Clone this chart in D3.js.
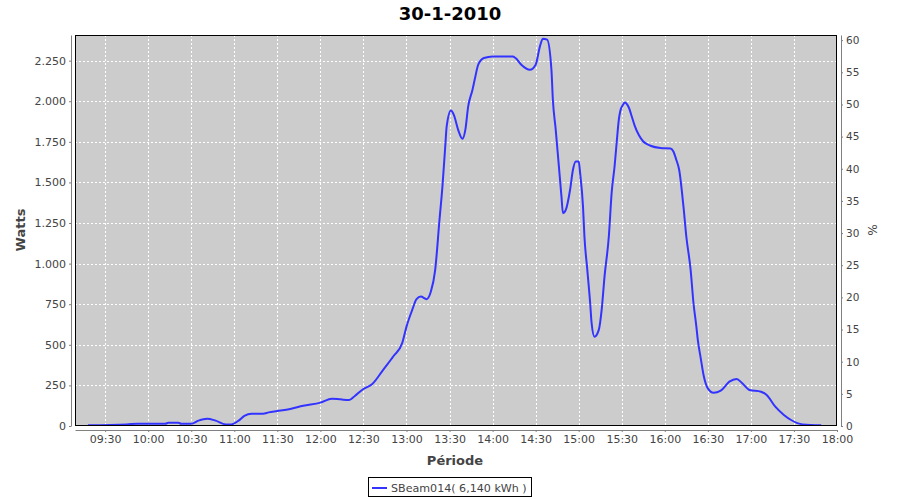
<!DOCTYPE html>
<html>
<head>
<meta charset="utf-8">
<script src="https://cdn.jsdelivr.net/npm/d3@7"></script>
<style>
  html, body { margin: 0; padding: 0; background: #fff; }
  svg { display: block; }
  text { font-family: "DejaVu Sans", sans-serif; }
</style>
</head>
<body>
<svg id="chart" width="900" height="500"></svg>
<script>
// ---- data ----
const chartTitle = "30-1-2010";
const seriesName = "SBeam014( 6,140 kWh )";
const times = ["09:18","09:45","09:53","10:12","10:14","10:21","10:23","10:30","10:35","10:41","10:47","10:54","10:58","11:03","11:07","11:12","11:20","11:24","11:30","11:39","11:48","12:00","12:08","12:14","12:20","12:24","12:30","12:36","12:44","12:51","12:57","13:00","13:04","13:07","13:10","13:14","13:17","13:20","13:23","13:25","13:27","13:28","13:31","13:33","13:36","13:39","13:41","13:43","13:46","13:48","13:50","13:54","14:00","14:14","14:16","14:20","14:26","14:30","14:33","14:35","14:38","14:41","14:42","14:44","14:46","14:48","14:49","14:51","14:54","14:56","14:58","15:00","15:01","15:03","15:04","15:06","15:08","15:09","15:11","15:14","15:16","15:18","15:21","15:23","15:25","15:27","15:28","15:29","15:31","15:32","15:35","15:37","15:39","15:42","15:45","15:50","15:57","16:04","16:06","16:08","16:10","16:13","16:15","16:18","16:20","16:22","16:23","16:25","16:27","16:30","16:34","16:39","16:45","16:50","16:54","16:59","17:07","17:11","17:17","17:23","17:28","17:36","17:49"];
const watts = [4,10,14,14,20,20,14,14,33,45,33,10,10,33,62,76,76,84,92,105,125,144,168,164,160,185,228,257,349,431,510,612,715,781,797,781,828,962,1270,1470,1721,1845,1943,1916,1824,1769,1824,1968,2071,2153,2225,2266,2276,2276,2266,2225,2194,2225,2338,2385,2379,2194,2009,1824,1619,1413,1311,1331,1455,1578,1629,1629,1557,1352,1167,962,756,633,550,592,715,920,1167,1440,1598,1800,1890,1940,1980,1993,1960,1906,1850,1790,1752,1726,1712,1709,1691,1640,1578,1352,1167,962,756,612,530,420,314,232,205,218,273,290,263,222,211,191,119,68,37,10,4];
const xTickLabels = ["09:30","10:00","10:30","11:00","11:30","12:00","12:30","13:00","13:30","14:00","14:30","15:00","15:30","16:00","16:30","17:00","17:30","18:00"];
const leftTicks = [0,250,500,750,1000,1250,1500,1750,2000,2250];
const rightTicks = [0,5,10,15,20,25,30,35,40,45,50,55,60];
const xStart = "09:09", xEnd = "18:00";
const leftMax = 2408, rightMax = 60.8;

// ---- helpers ----
const parse = s => { const [h,m] = s.split(":").map(Number); return new Date(2010,0,30,h,m); };
const data = times.map((t,i) => ({t: parse(t), w: watts[i]}));
const fmtThousands = d3.formatLocale({decimal: ",", thousands: ".", grouping: [3], currency: ["","€"]}).format(",d");

// ---- layout ----
const P = {left: 75, right: 837, top: 35, bottom: 426};
const svg = d3.select("#chart");

const x = d3.scaleTime().domain([parse(xStart), parse(xEnd)]).range([P.left, P.right]);
const yL = d3.scaleLinear().domain([0, leftMax]).range([P.bottom, P.top]);
const yR = d3.scaleLinear().domain([0, rightMax]).range([P.bottom, P.top]);

// title
svg.append("text").attr("x", 450).attr("y", 20).attr("text-anchor", "middle")
  .style("font-size", "18px").style("font-weight", "bold").attr("fill", "#000").text(chartTitle);

// plot background
svg.append("rect").attr("x", P.left).attr("y", P.top)
  .attr("width", P.right - P.left).attr("height", P.bottom - P.top).attr("fill", "#cccccc");

// grid
const xTickDates = xTickLabels.map(parse);
const grid = svg.append("g").attr("stroke", "#ffffff").attr("stroke-width", 1).attr("stroke-dasharray", "2,2");
grid.selectAll("line.v").data(xTickDates.filter(d => x(d) < P.right - 1)).join("line")
  .attr("x1", d => Math.round(x(d)) + 0.5).attr("x2", d => Math.round(x(d)) + 0.5)
  .attr("y1", P.top).attr("y2", P.bottom);
grid.selectAll("line.h").data(leftTicks.filter(d => d > 0)).join("line")
  .attr("y1", d => Math.round(yL(d)) + 0.5).attr("y2", d => Math.round(yL(d)) + 0.5)
  .attr("x1", P.left).attr("x2", P.right);

// line
const clipId = "clipPlot";
svg.append("clipPath").attr("id", clipId).append("rect")
  .attr("x", P.left).attr("y", P.top).attr("width", P.right - P.left).attr("height", P.bottom - P.top);
svg.append("path").datum(data)
  .attr("clip-path", `url(#${clipId})`)
  .attr("fill", "none").attr("stroke", "#3333ff").attr("stroke-width", 2)
  .attr("d", d3.line().x(d => x(d.t)).y(d => yL(d.w)).curve(d3.curveMonotoneX));

// plot border
svg.append("rect").attr("x", P.left + 0.5).attr("y", P.top + 0.5)
  .attr("width", P.right - P.left - 1).attr("height", P.bottom - P.top - 1)
  .attr("fill", "none").attr("stroke", "#000").attr("stroke-width", 1);

const axisColor = "#808080", labelColor = "#444444";
function styleAxis(g) {
  g.select(".domain").attr("stroke", axisColor);
  g.selectAll(".tick line").attr("stroke", axisColor);
  g.selectAll(".tick text").attr("fill", labelColor).style("font-size", "11px").style("font-family", "DejaVu Sans, sans-serif");
}

// x axis
const gx = svg.append("g").attr("transform", `translate(0,${P.bottom + 4})`)
  .call(d3.axisBottom(x).tickValues(xTickDates).tickFormat((d,i) => xTickLabels[i]).tickSizeOuter(0).tickSizeInner(2).tickPadding(3));
styleAxis(gx);

// left axis
const gl = svg.append("g").attr("transform", `translate(${P.left - 4},0)`)
  .call(d3.axisLeft(yL).tickValues(leftTicks).tickFormat(fmtThousands).tickSizeOuter(0).tickSizeInner(2).tickPadding(3));
styleAxis(gl);

// right axis
const gr = svg.append("g").attr("transform", `translate(${P.right + 4},0)`)
  .call(d3.axisRight(yR).tickValues(rightTicks).tickSizeOuter(0).tickSizeInner(2).tickPadding(3));
styleAxis(gr);
gr.selectAll(".tick text").style("font-size", "10.5px");

// axis titles
svg.append("text").attr("transform", "translate(25,230) rotate(-90)").attr("text-anchor", "middle")
  .style("font-size", "13px").style("font-weight", "bold").attr("fill", labelColor).text("Watts");
svg.append("text").attr("transform", "translate(868,230) rotate(90)").attr("text-anchor", "middle")
  .style("font-size", "12px").attr("fill", labelColor).text("%");
svg.append("text").attr("x", 455).attr("y", 465).attr("text-anchor", "middle")
  .style("font-size", "13px").style("font-weight", "bold").attr("fill", labelColor).text("Période");

// legend
const lg = svg.append("g");
lg.append("rect").attr("x", 368.5).attr("y", 477.5).attr("width", 163).attr("height", 19)
  .attr("fill", "#fff").attr("stroke", "#000");
lg.append("line").attr("x1", 372).attr("x2", 387).attr("y1", 488).attr("y2", 488)
  .attr("stroke", "#3333ff").attr("stroke-width", 2);
lg.append("text").attr("x", 391).attr("y", 492).style("font-size", "11.1px").attr("fill", labelColor).text(seriesName);
</script>
</body>
</html>
